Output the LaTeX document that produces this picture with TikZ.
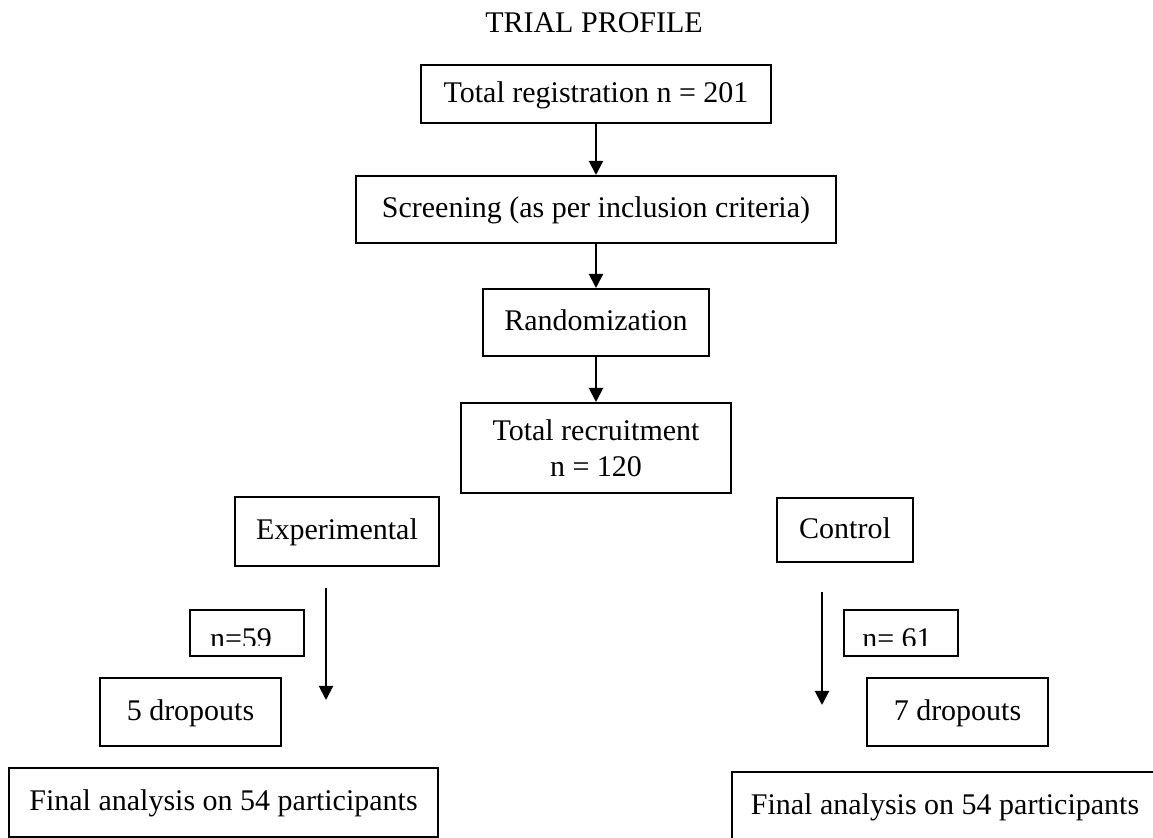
\documentclass[tikz,border=0pt]{standalone}
\usepackage{fontspec}
\setmainfont{Liberation Serif}
\usetikzlibrary{arrows.meta}

\begin{document}
\begin{tikzpicture}[x=0.5pt, y=-0.5pt,
  font=\fontsize{15}{18}\selectfont,
  box/.style={draw, line width=1pt, inner sep=0pt, text height=0.85em, text depth=0em},
  >={Triangle[length=7pt, width=7pt]}]
\useasboundingbox (0,0) rectangle (1153,838);
\clip (0,0) rectangle (1153,838);
\node [anchor=base] (title) at (594,33) {TRIAL PROFILE};
% main column
\node [box, minimum width=175pt, minimum height=29pt] (reg) at (596,94) {Total registration n = 201};
\node [box, minimum width=240pt, minimum height=33.5pt] (screen) at (596,209.5) {Screening (as per inclusion criteria)};
\node [box, minimum width=113pt, minimum height=33.5pt] (rand) at (596,322.5) {Randomization};
\node [box, minimum width=135pt, minimum height=45pt, text height={}, text depth={}, align=center] (recr) at (596,448) {Total recruitment\\ n = 120};
\draw [->, line width=1pt] (reg) -- (screen);
\draw [->, line width=1pt] (screen) -- (rand);
\draw [->, line width=1pt] (rand) -- (recr);
% the two groups
\node [box, minimum width=102pt, minimum height=34.5pt] (exp) at (337,531.5) {Experimental};
\node [box, minimum width=68pt, minimum height=32pt] (ctrl) at (845,530) {Control};
\node [box, minimum width=57pt, minimum height=23pt] (nexp) at (247,633) {};
\node [box, minimum width=57pt, minimum height=23pt] (nctrl) at (901,633) {};
\begin{scope}
\clip (190,610) rectangle (304,646);
\node [anchor=base] (nexptext) at (241,649) {n=59};
\end{scope}
\begin{scope}
\clip (844,610) rectangle (958,646);
\node [anchor=base] (nctrltext) at (897,649) {n= 61};
\end{scope}
\coordinate (expfrom) at (326,588);
\coordinate (expto) at (326,700);
\coordinate (ctrlfrom) at (822,592);
\coordinate (ctrlto) at (822,705);
\draw [->, line width=1pt] (expfrom) -- (expto);
\draw [->, line width=1pt] (ctrlfrom) -- (ctrlto);
\node [box, minimum width=90.5pt, minimum height=34pt] (dropexp) at (190.5,712) {5 dropouts};
\node [box, minimum width=90.5pt, minimum height=34pt] (dropctrl) at (957.5,712) {7 dropouts};
\node [box, minimum width=214.5pt, minimum height=34.5pt] (finexp) at (223.5,802.5) {Final analysis on 54 participants};
\node [box, minimum width=213pt, minimum height=34.5pt] (finctrl) at (945,806.5) {Final analysis on 54 participants};
\end{tikzpicture}
\end{document}
